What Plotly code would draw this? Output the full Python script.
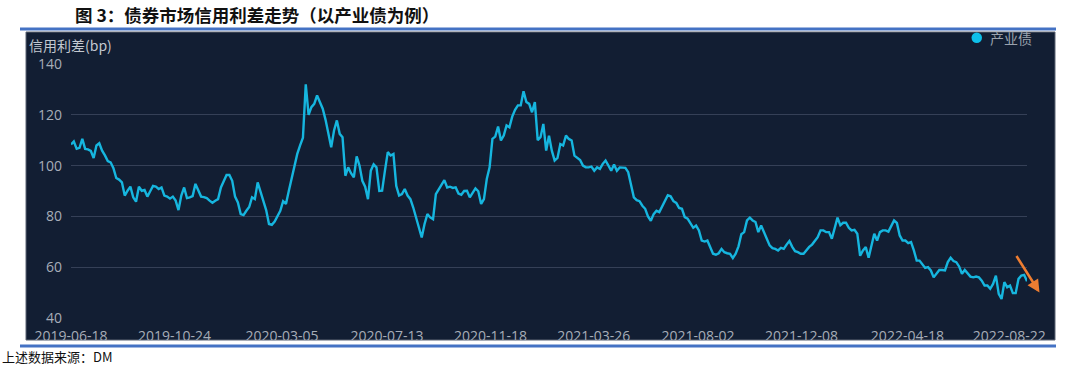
import pandas as pd
import plotly.graph_objects as go

# ---- data (twice-weekly readings of the credit spread, bp) ----
start_date = "2019-06-18"
step = "84h"  # 3.5 days between readings
spread_values = [
    # 2019-06 .. 2020-02
    108.3, 109.5, 106.6, 107.0, 110.5, 106.6, 106.4, 105.8, 103.0, 107.9,
    108.8, 105.9, 104.0, 101.8, 101.3, 99.0, 95.1, 94.5, 93.4, 88.2,
    90.1, 91.7, 87.5, 85.8, 91.7, 90.1, 90.4, 87.8, 89.9, 92.0,
    91.7, 90.8, 91.4, 88.2, 87.8, 87.0, 87.8, 86.2, 82.5, 88.2,
    91.4, 87.2, 87.5, 88.0, 92.8, 90.1, 87.8, 87.6, 87.2, 86.2,
    85.4, 86.2, 86.8, 91.4, 94.0, 96.3, 96.3, 94.0, 87.8, 85.5,
    80.9, 80.5, 82.2, 83.7, 87.5, 86.8, 93.4, 90.0, 86.0, 82.5,
    # 2020-02 .. 2020-10
    77.0, 76.7, 78.0, 79.9, 82.2, 86.0, 84.9, 90.0, 94.7, 99.3,
    104.6, 108.0, 111.0, 132.0, 120.0, 123.0, 124.3, 127.6, 125.3, 122.4,
    118.0, 112.5, 107.2, 113.8, 117.8, 112.5, 111.2, 96.0, 99.3, 97.0,
    95.4, 103.6, 100.0, 94.0, 91.7, 86.8, 98.0, 100.5, 99.3, 90.0,
    90.1, 98.0, 105.3, 104.0, 104.6, 92.0, 88.2, 88.8, 90.8, 88.2,
    86.8, 83.5, 79.6, 75.5, 71.7, 77.0, 80.9, 79.6, 78.9, 88.8,
    90.8, 92.8, 94.3, 91.4, 91.7, 91.2, 91.4, 89.0,
    # 2020-10 .. 2021-06
    88.5, 90.0, 90.1, 87.5, 89.4, 91.0, 89.9, 84.9, 86.8, 94.7,
    99.3, 110.5, 111.4, 115.4, 109.9, 111.8, 115.8, 115.1, 119.3, 122.0,
    123.7, 123.7, 129.3, 125.0, 124.3, 121.0, 125.0, 110.0, 111.2, 116.4,
    105.9, 111.8, 105.9, 102.0, 103.0, 108.5, 107.9, 111.8, 110.5, 109.9,
    103.9, 103.0, 102.2, 100.0, 99.3, 99.3, 99.6, 98.0, 99.3, 98.7,
    100.7, 102.0, 100.0, 98.0, 100.4, 98.0, 99.3, 99.3, 99.1, 97.4,
    92.8, 87.5, 86.4, 86.0, 84.2, 83.0, 80.0, 78.3, 80.9, 82.2,
    # 2021-06 .. 2022-02
    81.7, 83.7, 86.3, 88.3, 87.9, 86.0, 85.3, 83.3, 83.0, 79.7,
    79.1, 77.1, 75.5, 76.4, 74.5, 70.5, 70.1, 70.5, 67.5, 65.3,
    64.9, 65.5, 67.2, 65.9, 65.5, 65.3, 63.6, 65.3, 68.2, 73.0,
    73.8, 78.4, 79.5, 78.4, 77.8, 73.8, 76.4, 73.5, 71.2, 68.6,
    67.5, 67.2, 66.6, 67.6, 67.2, 68.9, 70.3, 68.0, 66.3, 65.9,
    65.3, 65.3, 66.8, 68.0, 68.9, 70.5, 71.8, 74.5, 74.5, 73.8,
    73.8, 71.2, 75.0, 79.5, 76.5, 77.5, 77.5, 75.5, 74.5, 74.7,
    # 2022-02 .. 2022-09
    73.2, 64.5, 66.6, 67.9, 63.7, 69.0, 73.2, 70.5, 73.8, 74.5,
    74.5, 74.0, 76.4, 78.4, 77.4, 72.5, 70.5, 70.5, 69.5, 69.9,
    66.6, 62.6, 62.6, 61.3, 59.7, 60.0, 58.7, 56.0, 57.4, 58.9,
    58.9, 58.7, 62.0, 63.7, 62.4, 62.0, 60.3, 57.4, 58.9, 57.4,
    56.3, 56.0, 56.3, 56.0, 54.7, 52.8, 52.8, 51.5, 53.4, 56.7,
    49.5, 47.5, 54.1, 52.1, 52.8, 49.8, 49.8, 55.4, 56.7, 57.0,
    54.5,
]
dates = pd.date_range(start_date, periods=len(spread_values), freq=step)

x_tick_labels = ["2019-06-18", "2019-10-24", "2020-03-05", "2020-07-13",
                 "2020-11-18", "2021-03-26", "2021-08-02", "2021-12-08",
                 "2022-04-18", "2022-08-22"]
y_ticks = [40, 60, 80, 100, 120, 140]

title_text = "图 3：债券市场信用利差走势（以产业债为例）"
series_name = "产业债"
y_title = "信用利差(bp)"
source_text = "上述数据来源：DM"

# ---- layout geometry (pixels) ----
W, H = 1080, 366
L, R, T, B = 71, 1027, 64, 318
pw, ph = R - L, B - T


def px(x):
    return (x - L) / pw


def py(y):
    return (B - y) / ph


PANEL = "#121e33"
LINE = "#16b6df"
GRID = "#354057"
TICK = "#a7adb8"

fig = go.Figure()
fig.add_trace(go.Scatter(
    x=dates, y=spread_values, mode="lines", name=series_name,
    line=dict(color=LINE, width=2.4), showlegend=False,
))

shapes = [
    # dark panel
    dict(type="rect", xref="paper", yref="paper", layer="below",
         x0=px(26), x1=px(1055), y0=py(340), y1=py(32),
         fillcolor=PANEL, line=dict(color="#5c6575", width=1)),
    # top rule
    dict(type="line", xref="paper", yref="paper",
         x0=px(20), x1=px(1056), y0=py(29), y1=py(29),
         line=dict(color="#4472c4", width=3)),
    # bottom rule
    dict(type="line", xref="paper", yref="paper",
         x0=px(20), x1=px(1056), y0=py(346), y1=py(346),
         line=dict(color="#4472c4", width=3)),
    # legend dot
    dict(type="circle", xref="paper", yref="paper",
         x0=px(971.5), x1=px(982), y0=py(43), y1=py(32.5),
         fillcolor="#0ec0ea", line=dict(width=0)),
]

annotations = [
    dict(text=f"<b>{title_text}</b>", xref="paper", yref="paper",
         x=px(73), y=py(15), xanchor="left", yanchor="middle", showarrow=False,
         font=dict(family="Noto Sans CJK SC", size=17.5, color="#111111")),
    dict(text=y_title, xref="paper", yref="paper",
         x=px(27), y=py(45), xanchor="left", yanchor="middle", showarrow=False,
         font=dict(family="Noto Sans CJK SC", size=14, color="#c3c8d0")),
    dict(text=series_name, xref="paper", yref="paper",
         x=px(988), y=py(38), xanchor="left", yanchor="middle", showarrow=False,
         font=dict(family="Noto Sans CJK SC", size=14, color="#9aa2ae")),
    dict(text=source_text, xref="paper", yref="paper",
         x=px(0), y=py(356), xanchor="left", yanchor="middle", showarrow=False,
         font=dict(family="Noto Sans CJK SC", size=13, color="#111111")),
    # orange trend arrow
    dict(text="", xref="paper", yref="paper", x=px(1039.5), y=py(292.5),
         ax=-24, ay=-38, showarrow=True, arrowhead=2, arrowsize=1,
         arrowwidth=2.5, arrowcolor="#ed7d31"),
]

fig.update_layout(
    width=W, height=H,
    margin=dict(l=L, r=W - R, t=T, b=H - B, pad=0),
    paper_bgcolor="white", plot_bgcolor=PANEL,
    shapes=shapes, annotations=annotations, showlegend=False,
    xaxis=dict(
        type="date", range=[dates[0], dates[-1]],
        tickvals=x_tick_labels, ticktext=x_tick_labels,
        showgrid=False, zeroline=False, showline=False, ticks="",
        tickfont=dict(family="Open Sans", size=14, color=TICK),
        ticklabelstandoff=8,
    ),
    yaxis=dict(
        range=[40, 140], tickvals=y_ticks, showgrid=True, gridcolor=GRID,
        gridwidth=1, zeroline=False, showline=False, ticks="",
        tickfont=dict(family="Open Sans", size=14, color=TICK),
        ticklabelstandoff=8,
    ),
)

fig.write_html("out.html", config={"displayModeBar": False},
               post_script="document.body.style.margin='0';")
